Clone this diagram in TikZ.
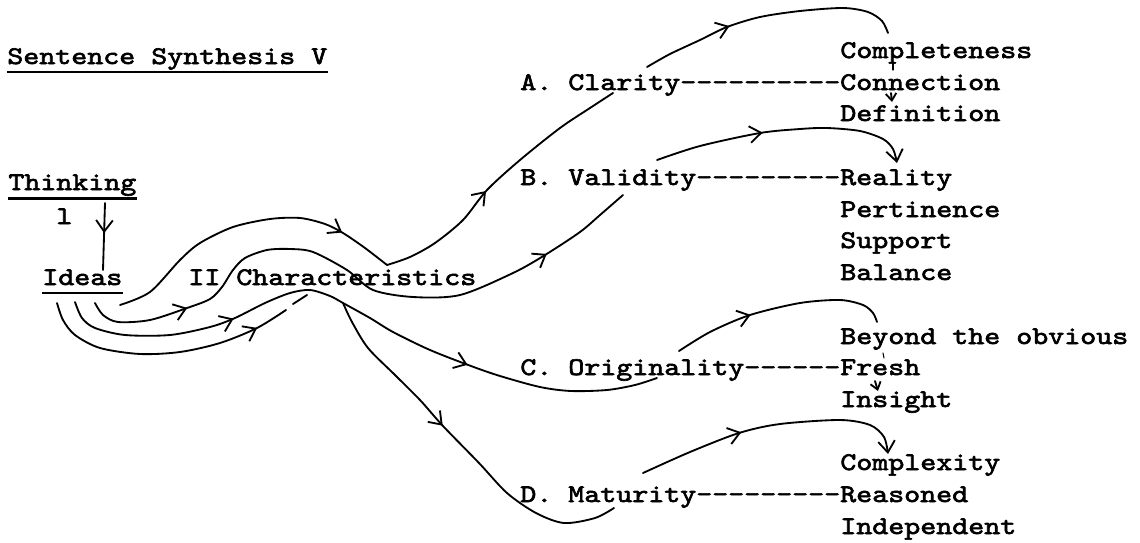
\documentclass[tikz,border=0pt]{standalone}
\usepackage{fontspec}
\usetikzlibrary{arrows.meta,decorations.markings}
\newfontfamily\typewriter{lmmono10-regular.otf}[FakeStretch=1.2,FakeBold=2.5,Ligatures=TeXOff]

\begin{document}
\begin{tikzpicture}[x=0.02cm,y=-0.02cm,>={Straight Barb[length=6.5pt,width=9.5pt]},
  every node/.style={inner sep=0pt,anchor=base west,font={\typewriter\fontsize{14.45pt}{17pt}\selectfont}},
  ink/.style={line width=1.05pt,line cap=round,line join=round},
  uline/.style={line width=1.5pt},
  smalltip/.style={-{Straight Barb[length=4pt,width=6pt]}},
  midarrow/.style={postaction={decorate,decoration={markings,mark=at position #1 with {\arrow{>}}}}}]
  \path[fill=white,use as bounding box] (0,0) rectangle (1140,542);

  \node (title) at (7,64) {Sentence Synthesis V};
  \draw[uline] ([yshift=-4.5pt]title.base west) -- ([yshift=-4.5pt]title.base east);
  \node (thinking) at (8,190) {Thinking};
  \draw[uline] ([yshift=-5pt]thinking.base west) -- ([yshift=-5pt]thinking.base east);
  \node (one) at (56,224) {l};
  \node (ideas) at (42,285) {Ideas};
  \draw[uline] ([yshift=-4.5pt]ideas.base west) -- ([yshift=-4.5pt]ideas.base east);
  \node (charac) at (188,285) {II Characteristics};

  \node (clarity) at (520,90) {A. Clarity----------Connection};
  \node (validity) at (520,185) {B. Validity---------Reality};
  \node (originality) at (520,375) {C. Originality------Fresh};
  \node (maturity) at (520,502) {D. Maturity---------Reasoned};

  \node (completeness) at (840,58) {Completeness};
  \node (definition) at (840,121) {Definition};
  \node (pertinence) at (840,217) {Pertinence};
  \node (support) at (840,248) {Support};
  \node (balance) at (840,280) {Balance};
  \node (beyond) at (840,344) {Beyond the obvious};
  \node (insight) at (840,407) {Insight};
  \node (complexity) at (840,470) {Complexity};
  \node (independent) at (840,534) {Independent};

  \coordinate (t0) at (105,203);
  \coordinate (t1) at (103,270);
  \coordinate (iA) at (120,305);
  \coordinate (iB) at (95,303);
  \coordinate (iC) at (75,302);
  \coordinate (iD) at (57,303);
  \coordinate (jA) at (387,265);
  \coordinate (peak) at (310,290);
  \coordinate (fork) at (343,303);
  \coordinate (aIn) at (613,93);
  \coordinate (aOut) at (647,67);
  \coordinate (aEnd) at (888,33);
  \coordinate (bIn) at (623,195);
  \coordinate (bOut) at (657,160);
  \coordinate (bEnd) at (897,163);
  \coordinate (cIn) at (657,378);
  \coordinate (cOut) at (679,351);
  \coordinate (cEnd) at (877,322);
  \coordinate (dIn) at (614,508);
  \coordinate (dOut) at (643,473);
  \coordinate (dEnd) at (888,454);
  \coordinate (iDend) at (286,310);

  \draw[ink,midarrow=0.45] (t0) -- (t1);

  \draw[ink,midarrow=0.82] plot[smooth] coordinates {(iA) (150,292) (180,260) (200,243) (233,227) (270,219) (300,218) (325,224) (343,233) (365,248) (jA)};
  \draw[ink,midarrow=0.44] plot[smooth] coordinates {(jA) (410,257) (435,243) (463,220) (487,190) (520,160) (560,128) (590,108) (aIn)};
  \draw[ink,midarrow=0.35] plot[smooth] coordinates {(aOut) (670,54) (700,40) (727,27) (760,17) (800,11) (843,8) (868,12) (882,21) (aEnd)};
  \draw[ink,line width=0.6pt] (893,63) coordinate (aT0) -- (893,70) coordinate (aT1);
  \draw[ink,smalltip] (891,93) coordinate (aV0) -- (892,102) coordinate (aV1);

  \draw[ink,midarrow=0.17,midarrow=0.84] plot[smooth] coordinates {(iB) (103,315) (118,322) (150,320) (187,308) (210,299) (222,287) (233,270) (245,258) (267,250) (290,249) (313,252) (347,270) (373,290) (413,297) (460,295) (513,273) (545,255) (580,232) (600,215) (bIn)};
  \draw[ink,->,midarrow=0.42] plot[smooth] coordinates {(bOut) (700,146) (760,133) (800,129) (827,128) (860,131) (883,139) (893,149) (bEnd)};

  \draw[ink,midarrow=0.28,midarrow=0.69] plot[smooth] coordinates {(iC) (82,318) (95,328) (125,335) (170,335) (210,327) (235,318) (265,303) (290,293) (peak) (330,296) (fork) (370,318) (393,332) (430,350) (471,366) (500,376) (540,387) (571,391) (607,390) (635,385) (cIn)};
  \draw[ink,midarrow=0.37] plot[smooth] coordinates {(cOut) (710,332) (750,315) (800,303) (840,300) (863,305) (873,313) (cEnd)};
  \draw[ink,line width=0.6pt] (883,353) coordinate (cT0) -- (884,358) coordinate (cT1);
  \draw[ink,smalltip] (875,381) coordinate (cV0) -- (878,391) coordinate (cV1);

  \draw[ink,midarrow=0.87] plot[smooth] coordinates {(iD) (63,320) (75,335) (100,348) (140,354) (180,352) (220,343) (257,328) (iDend)};
  \draw[ink] (293,304) coordinate (gap0) -- (307,295) coordinate (gap1);

  \draw[ink,midarrow=0.43] plot[smooth] coordinates {(fork) (352,322) (368,348) (395,375) (420,400) (443,426) (479,463) (507,493) (536,513) (564,523) (595,518) (dIn)};
  \draw[ink,->,midarrow=0.39] plot[smooth] coordinates {(dOut) (690,452) (739,433) (780,424) (840,420) (870,425) (884,437) (dEnd)};
\end{tikzpicture}
\end{document}
